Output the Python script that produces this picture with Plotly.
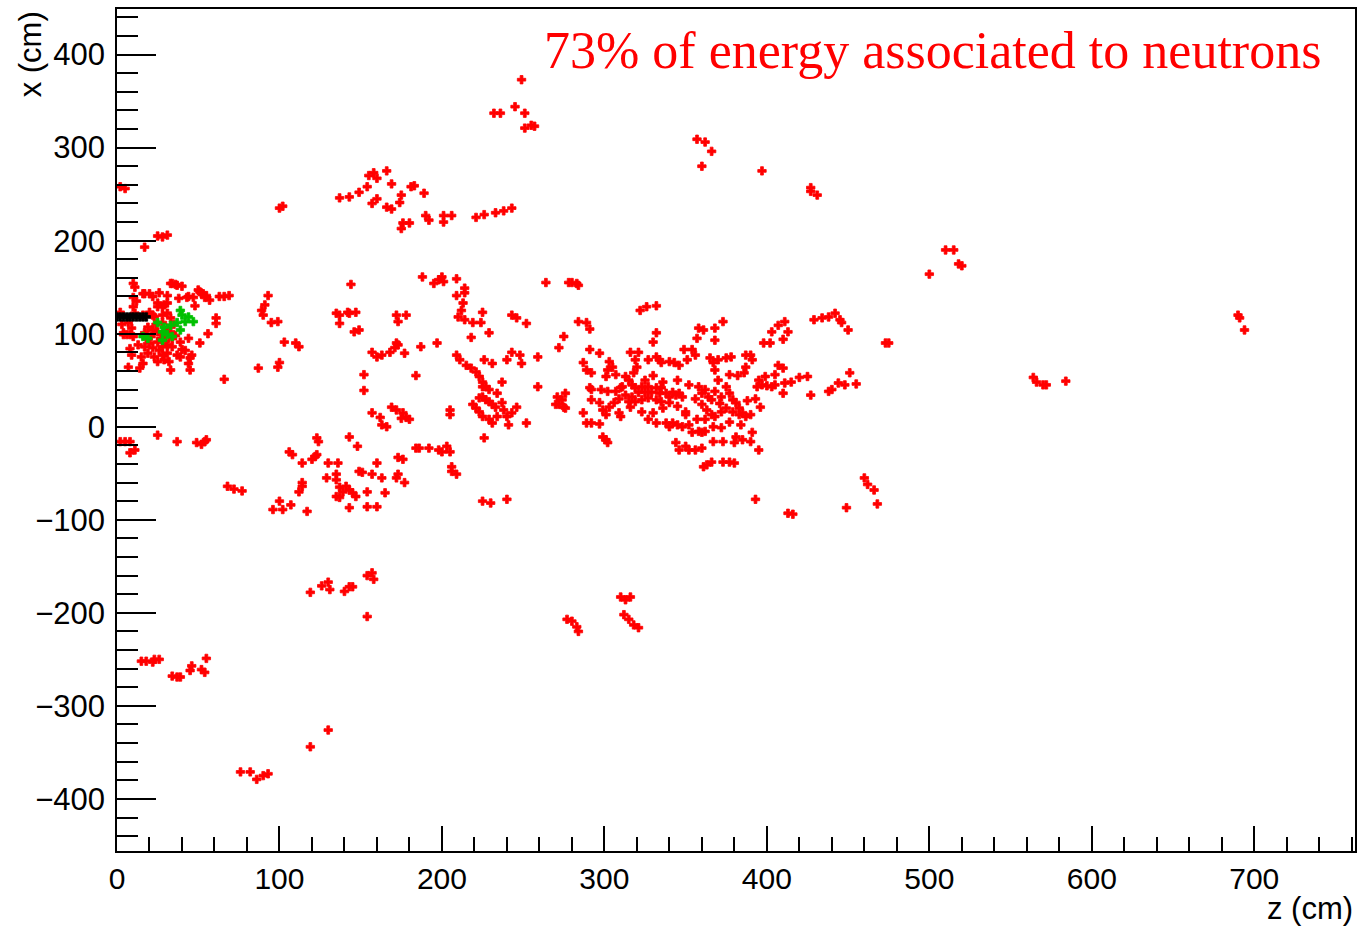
import plotly.graph_objects as go

# ---------------- data (z [cm], x [cm]) ----------------
red_front = [
    (11,150),(10,139),(16,143),(20,143),(22,140),(26,144),(33,154),(36,153),(40,151),(31,141),
    (25,133),(28,129),(31,133),(44,140),(51,145),(53,143),(55,141),(57,136),(63,140),(66,140),
    (69,141),(10,154),(17,143),(34,154),(37,152),(43,139),(47,139),(50,147),(52,143),(54,139),
    (61,117),(61,111),(66,51),
    (20,123),(23,118),(28,120),(31,122),(33,117),(28,112),(31,106),(33,102),(29,99),(25,91),
    (20,90),(17,86),(22,85),(28,86),(31,88),(34,86),(39,91),(40,83),(37,77),(31,79),(28,77),
    (23,75),(19,79),(15,75),(25,70),(29,72),(39,75),(45,74),(46,77),(33,61),(45,61),(14,63),
    (7,64),(9,77),(6,99),(4,99),(10,97),(7,112),(9,106),(11,122),(16,120),(19,107),(21,97),
    (17,101),(51,90),(44,95),(25,102),(34,95),(10,129),(25,129),(29,131),(22,120),(4,101),(8,99),
    (24,110),(27,95),(35,110),(26,82),(36,98),(30,92),(22,104),(18,96),(32,70),(42,82),(13,88),
    (3,110),(2,123),(12,135),(38,138),(48,130),(56,100),(8,84),(16,68),(44,68),
    (5,-16),(8,-16),(2,-16),(8,-28),(11,-25),(25,-9),(37,-16),(49,-17),(52,-19),(54,-16),(55,-14),
    (2,258),(5,256),(25,205),(31,206),(28,204),(17,193),
]

red_mid = [
    (93,141),(91,131),(89,125),(90,120),(95,112),(99,113),(103,91),(110,90),(112,86),(87,63),
    (99,64),(100,69),(135,122),(137,120),(137,111),(142,123),(144,153),(143,122),(147,123),
    (146,102),(149,104),(172,120),(178,120),(173,113),(172,90),(187,86),(197,90),
    (100,235),(102,237),(137,246),(143,247),(149,252),(154,258),(155,270),(158,273),(160,267),
    (166,275),(169,261),(157,240),(160,245),(166,236),(169,234),(175,249),(174,241),(181,258),
    (183,259),(189,251),(176,219),(175,213),(180,219),(190,227),(192,222),(201,227),(201,220),
    (206,227),(221,225),(226,228),(233,230),(238,232),(243,235),
    (188,161),(195,154),(198,158),(200,161),(201,156),(209,159),(214,149),(214,144),(209,141),
    (213,133),(212,125),(210,118),(214,115),(219,112),(224,112),(225,123),(229,101),(218,96),
    (243,120),(246,117),(252,111),
    (264,155),(157,80),(160,75),(163,77),(168,80),(171,85),(173,88),(177,79),(152,56),(152,39),
    (184,55),(169,21),(172,18),(176,15),(178,10),(180,8),(157,15),(162,10),(163,2),(166,0),
    (175,9),(205,18),(205,13),
    (209,77),(211,72),(215,66),(218,63),(221,59),(223,54),(225,48),(225,43),(226,72),(231,68),
    (237,48),(234,36),(227,43),(229,40),
    (223,31),(225,32),(227,29),(229,27),(231,24),(233,21),(237,26),(238,18),(219,24),(221,20),
    (223,16),(225,11),(229,8),(231,4),(234,11),(240,11),(243,15),(246,21),(241,2),(252,4),
    (243,80),(248,77),(249,68),(240,72),(259,75),(259,43),(271,32),(272,24),(275,21),(270,24),
    (275,97),(272,85),
    (226,-12),(123,-12),(124,-16),(106,-27),(108,-30),(123,-30),(143,-11),(148,-21),
]

red_lower_mid = [
    (114,-39),(122,-32),(120,-35),(130,-39),(129,-55),(136,-39),(135,-51),(135,-57),(114,-60),
    (112,-70),(114,-64),(100,-80),(96,-89),(102,-89),(107,-84),(117,-91),(137,-65),(139,-70),
    (141,-64),(143,-68),(145,-71),(147,-75),(137,-76),(135,-75),(143,-87),(149,-48),(151,-49),
    (157,-51),(160,-39),(154,-70),(154,-86),(160,-86),(163,-55),(165,-71),(173,-33),(176,-35),
    (173,-51),(172,-55),(177,-60),(184,-23),(186,-23),(192,-23),(198,-25),(200,-27),(203,-21),
    (205,-27),(206,-43),(206,-48),(209,-51),(225,-80),(230,-82),(240,-78),(68,-64),(72,-67),
    (77,-69),
]

red_core = [
    (280,155),(283,154),(278,155),(284,152),(322,125),(326,129),(332,130),(284,113),(289,112),
    (291,105),(332,101),(330,91),(291,83),(297,79),(287,69),(289,61),(292,58),(303,70),
    (305,64),(302,61),(301,54),(307,56),(316,80),(321,80),(319,72),(320,64),(327,72),(332,75),
    (334,72),(335,69),(340,70),(343,69),(346,66),(349,83),(354,83),(356,77),(351,72),(358,106),
    (361,104),(368,106),(373,113),(368,93),(357,95),(365,74),(367,69),(368,61),(370,72),(375,74),
    (378,75),(387,77),(390,77),(391,72),(387,64),(386,58),(377,56),(398,90),(402,90),(403,102),
    (407,109),(411,113),(413,102),(410,94),(407,66),(410,63),(399,54),(405,56),(394,43),(397,45),
    (400,44),(403,43),(405,45),(411,47),(415,48),(420,53),(425,54),(410,36),(427,34),(429,115),
    (434,117),(438,118),(442,122),(445,115),(446,112),(450,104),(438,38),(440,40),(444,47),
    (448,45),(451,58),(455,46),(396,21),
    (291,42),(292,40),(298,40),(302,38),(307,38),(310,42),(276,36),(274,29),(276,20),(292,29),
    (297,26),(299,18),(301,13),(303,21),(306,26),(309,15),(310,11),(287,15),(289,4),(292,4),
    (297,3),(299,-11),(301,-14),(302,-17),
    (311,43),(313,54),(315,50),(317,45),(319,42),(321,37),(323,43),(325,37),(327,43),(329,37),
    (332,42),(334,36),(335,42),(338,36),(340,32),(342,37),(344,34),(346,36),(348,32),(317,32),
    (315,27),(319,27),(323,29),(327,31),(332,29),(335,27),(340,26),(316,21),(323,16),
    (327,8),(332,4),(338,4),(340,0),(342,4),(345,2),(348,0),(352,2),(354,-6),(358,-5),(360,-6),
    (362,-5),(367,0),(372,-1),
    (344,-17),(346,-25),(350,-21),(352,-25),(356,-25),(360,-23),(350,16),(350,13),
    (358,43),(360,36),(362,40),(364,32),(366,29),(368,38),(372,32),(375,43),(377,36),(379,29),
    (381,26),(383,20),(385,15),(360,24),(363,18),(366,13),(368,11),(372,16),(375,20),(379,16),
    (383,13),(387,11),(390,13),(357,8),(362,8),
    (367,-16),(373,-16),(381,-11),(385,-14),(390,-16),(391,-6),(395,-25),(380,-17),
    (361,-43),(363,-41),(366,-38),(373,-38),(377,-38),(380,-39),
    (325,50),(330,55),(336,48),(318,58),(345,50),(352,45),(309,30),(313,34),(336,20),(345,22),
    (356,30),(370,50),(382,55),(393,30),(395,50),(377,5),(384,2),(330,15),(371,25),(388,28),
]

red_far = [
    (249,373),(232,337),(236,337),(245,344),(251,337),(251,321),(255,324),(257,323),
    (357,309),(362,306),(366,296),(360,280),(397,275),(427,257),(427,253),(431,249),
    (500,164),(510,190),(515,190),(518,175),(520,173),(473,90),(475,90),
    (564,53),(566,48),(570,45),(572,45),(584,49),(690,120),(691,117),(694,104),
    (393,-78),(413,-93),(416,-94),(460,-55),(462,-62),(466,-68),(468,-83),(449,-87),
    (277,-207),(280,-209),(283,-215),(284,-220),(310,-183),(313,-186),(316,-183),
    (312,-202),(315,-207),(318,-213),(321,-216),
]

red_low = [
    (15,-252),(18,-252),(23,-250),(26,-250),(22,-253),(34,-268),(37,-269),(39,-269),(45,-262),
    (46,-257),(52,-261),(54,-264),(55,-249),
    (76,-371),(82,-371),(86,-379),(90,-375),(93,-373),(119,-344),(130,-326),
    (119,-178),(126,-171),(130,-167),(131,-175),(140,-177),(143,-172),(145,-172),(154,-160),
    (157,-157),(158,-164),(154,-204),
]

green_pts = [
    (39,125),(40,120),(37,112),(42,113),(47,113),(29,107),(28,102),(33,109),(34,97),(28,93),
    (19,95),(16,97),(39,104),(31,99),(44,118),(25,112),
]

black_z = [0, 2, 4, 6, 8, 10, 12, 14, 16, 18]
black_x = [118, 118, 118, 118, 118, 118, 118, 118, 118, 118]

x_ticks = [0, 100, 200, 300, 400, 500, 600, 700]
y_ticks = [-400, -300, -200, -100, 0, 100, 200, 300, 400]

label_text = "73% of energy associated to neutrons"

# ---------------- figure ----------------
red_all = red_front + red_mid + red_lower_mid + red_core + red_far + red_low
red_z = [p[0] for p in red_all]
red_x = [p[1] for p in red_all]

MSIZE = 7


def marker(color):
    return dict(symbol="cross", size=MSIZE, color=color, line=dict(width=0.8, color=color))


fig = go.Figure()
fig.add_trace(go.Scatter(x=red_z, y=red_x, mode="markers", marker=marker("#ff0000"),
                         hoverinfo="skip"))
fig.add_trace(go.Scatter(x=[p[0] for p in green_pts], y=[p[1] for p in green_pts], mode="markers",
                         marker=marker("#00c000"), hoverinfo="skip"))
fig.add_trace(go.Scatter(x=black_z, y=black_x, mode="markers", marker=marker("black"),
                         hoverinfo="skip"))

axis_font = dict(family="Liberation Sans, Arial, sans-serif", size=30, color="black")

fig.update_layout(
    width=1364, height=930,
    margin=dict(l=117, r=7, t=9, b=79, pad=0),
    plot_bgcolor="white", paper_bgcolor="white",
    showlegend=False,
    xaxis=dict(range=[0, 762], showline=True, linecolor="black", linewidth=1.5, mirror=True,
               ticks="inside", ticklen=25, tickwidth=1.5, tickcolor="black",
               tickvals=x_ticks, ticktext=[str(v) for v in x_ticks],
               minor=dict(dtick=20, tick0=0, ticks="inside", ticklen=14, tickwidth=1.5, tickcolor="black"),
               showgrid=False, zeroline=False, tickfont=axis_font),
    yaxis=dict(range=[-456, 449], showline=True, linecolor="black", linewidth=1.5, mirror=True,
               ticks="inside", ticklen=39, tickwidth=1.5, tickcolor="black",
               tickvals=y_ticks, ticktext=[("\u2212" + str(-v)) if v < 0 else str(v) for v in y_ticks],
               minor=dict(dtick=20, tick0=0, ticks="inside", ticklen=21, tickwidth=1.5, tickcolor="black"),
               showgrid=False, zeroline=False, tickfont=dict(axis_font, size=31), ticklabelstandoff=4),
    annotations=[
        dict(text="z (cm)", xref="paper", yref="paper", x=1.0, y=-0.068, xanchor="right",
             yanchor="middle", showarrow=False,
             font=dict(family="Liberation Sans, Arial, sans-serif", size=31, color="black")),
        dict(text="x (cm)", xref="paper", yref="paper", x=-0.07, y=1.0, xanchor="center",
             yanchor="top", textangle=-90, showarrow=False,
             font=dict(family="Liberation Sans, Arial, sans-serif", size=31, color="black")),
        dict(text=label_text, xref="paper", yref="paper", x=0.974, y=0.951, xanchor="right",
             yanchor="middle", showarrow=False,
             font=dict(family="Liberation Serif, DejaVu Serif, serif", size=52, color="#ff0000")),
    ],
)

fig.write_html("out.html", config={"displayModeBar": False},
               post_script="document.body.style.margin='0';")
